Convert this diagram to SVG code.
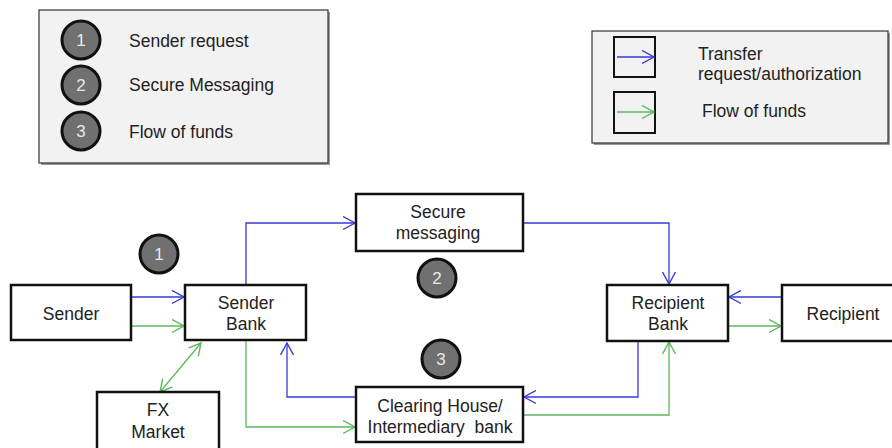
<svg xmlns="http://www.w3.org/2000/svg" width="892" height="448" viewBox="0 0 892 448">
<style>
text{font-family:"Liberation Sans",Arial,sans-serif;font-size:17.5px;fill:#222}
.node rect{fill:#fff;stroke:#111;stroke-width:2.5}
.lg{fill:#f2f2f2;stroke:#333;stroke-width:1.2}
.sh{fill:#999}
.num circle{fill:#707070;stroke:#111;stroke-width:3}
.num text{fill:#e8e8e8;font-size:17px;text-anchor:middle}
.c text{text-anchor:middle}
.pre{white-space:pre}
.b{fill:none;stroke:#3a3ad6;stroke-width:1.3}
.g{fill:none;stroke:#5cb85c;stroke-width:1.3}
</style>
<defs>
<marker id="ab" viewBox="0 0 14 15" refX="12" refY="7.5" markerWidth="14" markerHeight="15" markerUnits="userSpaceOnUse" orient="auto-start-reverse"><path d="M0,1 L12,7.5 L0,14" fill="none" stroke="#3a3ad6" stroke-width="1.4"/></marker>
<marker id="ag" viewBox="0 0 14 15" refX="12" refY="7.5" markerWidth="14" markerHeight="15" markerUnits="userSpaceOnUse" orient="auto-start-reverse"><path d="M0,1 L12,7.5 L0,14" fill="none" stroke="#5cb85c" stroke-width="1.4"/></marker>
</defs>
<rect width="892" height="448" fill="#fff"/>

<g id="legend-steps">
<rect class="sh" x="41" y="12" width="289" height="153"/>
<rect class="lg" x="39" y="10" width="289" height="153"/>
<g class="num"><circle cx="81" cy="40" r="19"/><text x="81" y="46">1</text></g>
<g class="num"><circle cx="81" cy="85" r="19"/><text x="81" y="91">2</text></g>
<g class="num"><circle cx="81" cy="131" r="19"/><text x="81" y="137">3</text></g>
<text x="129" y="47">Sender request</text>
<text x="129" y="91">Secure Messaging</text>
<text x="129" y="138">Flow of funds</text>
</g>

<g id="legend-arrows">
<rect class="sh" x="594" y="33" width="296" height="112"/>
<rect class="lg" x="592" y="31" width="296" height="112"/>
<rect x="614" y="37" width="41" height="40" fill="none" stroke="#111" stroke-width="2"/>
<rect x="614" y="92" width="41" height="41" fill="none" stroke="#111" stroke-width="2"/>
<line class="b" x1="617" y1="57" x2="654" y2="57" marker-end="url(#ab)"/>
<line class="g" x1="617" y1="112" x2="654" y2="112" marker-end="url(#ag)"/>
<text x="698" y="60">Transfer</text>
<text x="698" y="80">request/authorization</text>
<text x="702" y="117">Flow of funds</text>
</g>

<g id="connectors">
<line class="b" x1="131" y1="297" x2="184" y2="297" marker-end="url(#ab)"/>
<line class="g" x1="131" y1="326" x2="184" y2="326" marker-end="url(#ag)"/>
<line class="g" x1="201" y1="343" x2="160" y2="392" marker-start="url(#ag)" marker-end="url(#ag)"/>
<polyline class="b" points="246,285 246,223 355,223" marker-end="url(#ab)"/>
<polyline class="g" points="246,340 246,427 355,427" marker-end="url(#ag)"/>
<polyline class="b" points="356,397 287,397 287,343" marker-end="url(#ab)"/>
<polyline class="b" points="523,223 669,223 669,284" marker-end="url(#ab)"/>
<polyline class="b" points="638,341 638,397 524,397" marker-end="url(#ab)"/>
<polyline class="g" points="523,415 669,415 669,342" marker-end="url(#ag)"/>
<line class="b" x1="782" y1="297" x2="729" y2="297" marker-end="url(#ab)"/>
<line class="g" x1="728" y1="326" x2="781" y2="326" marker-end="url(#ag)"/>
</g>

<g id="step1" class="num"><circle cx="159" cy="254" r="19"/><text x="159" y="260">1</text></g>
<g id="step2" class="num"><circle cx="437" cy="278" r="19"/><text x="437" y="284">2</text></g>
<g id="step3" class="num"><circle cx="441" cy="359" r="19"/><text x="441" y="365">3</text></g>

<g id="sender" class="node c"><rect x="11" y="285" width="120" height="55"/><text x="71" y="320">Sender</text></g>
<g id="sender-bank" class="node c"><rect x="185" y="285" width="121" height="55"/><text x="246" y="309">Sender</text><text x="246" y="330">Bank</text></g>
<g id="fx-market" class="node c"><rect x="97" y="392" width="122" height="60"/><text x="158" y="416">FX</text><text x="158" y="438">Market</text></g>
<g id="secure-messaging" class="node c"><rect x="356" y="194" width="167" height="57"/><text x="438" y="218">Secure</text><text x="438" y="239">messaging</text></g>
<g id="clearing-house" class="node c"><rect x="356" y="387" width="167" height="55"/><text x="440" y="412">Clearing House/</text><text class="pre" x="440" y="433">Intermediary  bank</text></g>
<g id="recipient-bank" class="node c"><rect x="607" y="285" width="121" height="56"/><text x="668" y="309">Recipient</text><text x="668" y="330">Bank</text></g>
<g id="recipient" class="node c"><rect x="782" y="285" width="120" height="56"/><text x="843" y="320">Recipient</text></g>
</svg>
